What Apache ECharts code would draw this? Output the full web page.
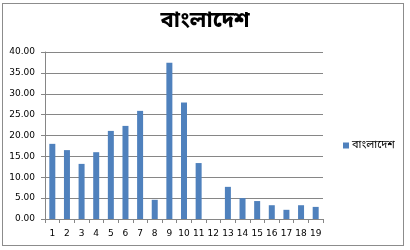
<!DOCTYPE html>
<html><head><meta charset="utf-8">
<script src="https://cdn.jsdelivr.net/npm/echarts@6/dist/echarts.min.js"></script>
<style>
html,body{margin:0;padding:0;background:#fff;}
#wrap{position:absolute;left:0;top:0;width:410px;height:250px;background:#fff;}
#frame{position:absolute;left:2px;top:3px;width:400px;height:241px;border:1px solid #8c8c8c;background:#fff;}
#c{position:absolute;left:0;top:0;width:410px;height:250px;}
</style></head>
<body>
<div id="wrap"><div id="frame"></div><div id="c"></div></div>
<script>
const categories = ['1','2','3','4','5','6','7','8','9','10','11','12','13','14','15','16','17','18','19'];
const values = [18.0,16.5,13.2,16.0,21.1,22.3,25.9,4.6,37.4,27.9,13.4,0,7.7,5.0,4.3,3.3,2.2,3.3,2.9];
const seriesName = 'বাংলাদেশ';
const titleText = 'বাংলাদেশ';
const yTicks = {min:0, max:40, interval:5};

const chart = echarts.init(document.getElementById('c'), null, {renderer:'canvas'});
const bn = '"Noto Sans Bengali","Noto Sans",sans-serif';
chart.setOption({
  animation:false,
  backgroundColor:'transparent',
  title:{text:titleText,left:'center',top:7,textStyle:{fontFamily:bn,fontSize:22,fontWeight:'bold',color:'#000'}},
  legend:{data:[seriesName],orient:'vertical',left:338,top:135,itemWidth:6,itemHeight:6,itemGap:4,icon:'rect',
    textStyle:{fontFamily:bn,fontSize:11,color:'#000',padding:[0,0,0,-2]}},
  grid:{left:45,top:52,right:87,bottom:31,containLabel:false},
  xAxis:{type:'category',data:categories,
    axisLine:{lineStyle:{color:'#868686'}},
    axisTick:{show:true,length:4,alignWithLabel:false,lineStyle:{color:'#868686'}},
    axisLabel:{color:'#000',fontFamily:'DejaVu Sans',fontSize:9,margin:10,interval:0}},
  yAxis:{type:'value',min:yTicks.min,max:yTicks.max,interval:yTicks.interval,
    axisLine:{show:true,lineStyle:{color:'#868686'}},
    axisTick:{show:true,length:4,lineStyle:{color:'#868686'}},
    splitLine:{lineStyle:{color:'#868686'}},
    axisLabel:{color:'#000',fontFamily:'DejaVu Sans',fontSize:9,margin:10,formatter:v=>v.toFixed(2)}},
  series:[{name:seriesName,type:'bar',data:values,barWidth:6,itemStyle:{color:'#4f81bd'}}]
});
</script>
</body></html>
